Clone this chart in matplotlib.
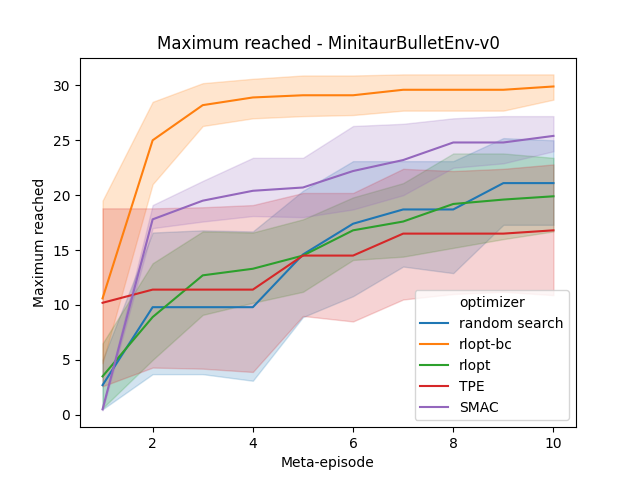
import numpy as np
import matplotlib
matplotlib.use("Agg")
import matplotlib.pyplot as plt

episodes = np.arange(1, 11)

optimizers = ["random search", "rlopt-bc", "rlopt", "TPE", "SMAC"]
colors = ["#1f77b4", "#ff7f0e", "#2ca02c", "#d62728", "#9467bd"]

# mean values
rs_mean = [2.7, 9.8, 9.8, 9.8, 14.6, 17.4, 18.7, 18.7, 21.1, 21.1]
bc_mean = [10.6, 25.0, 28.2, 28.9, 29.1, 29.1, 29.6, 29.6, 29.6, 29.9]
rl_mean = [3.5, 8.9, 12.7, 13.3, 14.5, 16.8, 17.6, 19.2, 19.6, 19.9]
tpe_mean = [10.2, 11.4, 11.4, 11.4, 14.5, 14.5, 16.5, 16.5, 16.5, 16.8]
smac_mean = [0.5, 17.8, 19.5, 20.4, 20.7, 22.2, 23.2, 24.8, 24.8, 25.4]

# confidence band bounds
rs_low = [0.5, 3.7, 3.7, 3.1, 8.9, 10.8, 13.5, 12.9, 17.3, 17.3]
rs_high = [5.0, 16.6, 16.8, 16.7, 20.4, 23.1, 23.1, 23.1, 25.2, 25.0]
bc_low = [4.7, 21.0, 26.3, 27.0, 27.2, 27.3, 27.7, 27.7, 27.7, 28.7]
bc_high = [19.5, 28.5, 30.2, 30.6, 30.9, 30.9, 31.0, 31.0, 31.0, 31.0]
rl_low = [0.6, 5.0, 9.1, 10.2, 11.2, 14.1, 14.4, 15.2, 16.0, 16.7]
rl_high = [6.5, 13.8, 16.7, 16.6, 17.8, 19.8, 21.1, 23.8, 23.8, 23.4]
tpe_low = [2.6, 4.3, 4.2, 3.9, 9.0, 8.5, 10.5, 11.0, 11.2, 10.9]
tpe_high = [18.8, 18.8, 18.9, 19.1, 20.2, 20.2, 22.4, 22.2, 22.4, 22.8]
smac_low = [0.4, 17.0, 17.6, 18.1, 18.0, 18.7, 20.0, 22.5, 22.9, 24.0]
smac_high = [0.6, 19.1, 21.3, 23.4, 23.4, 26.3, 26.5, 27.0, 27.2, 27.2]

means = [rs_mean, bc_mean, rl_mean, tpe_mean, smac_mean]
lows = [rs_low, bc_low, rl_low, tpe_low, smac_low]
highs = [rs_high, bc_high, rl_high, tpe_high, smac_high]

fig, ax = plt.subplots(figsize=(6.4, 4.8), dpi=100)

handles = []
for name, c, m, lo, hi in zip(optimizers, colors, means, lows, highs):
    line, = ax.plot(episodes, m, color=c, label=name, linewidth=1.5)
    ax.fill_between(episodes, lo, hi, color=c, alpha=0.2)
    handles.append(line)

# seaborn-style legend with a blank header entry
header, = ax.plot([], [], color="none", label="optimizer")
ax.legend(handles=[header] + handles, loc="lower right")

ax.set_title("Maximum reached - MinitaurBulletEnv-v0")
ax.set_xlabel("Meta-episode")
ax.set_ylabel("Maximum reached")

fig.savefig("out.png")
